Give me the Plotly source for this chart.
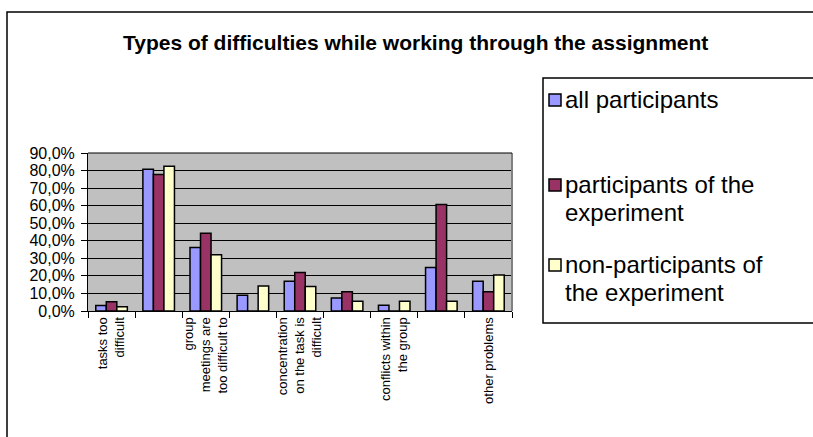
import plotly.graph_objects as go

# ---- data ----
category_labels = ["tasks too<br>difficult", None, "group<br>meetings are<br>too difficult to", None,
                   "concentration<br>on the task is<br>difficult", None, "conflicts within<br>the group", None,
                   "other problems"]
series_names = ["all participants", "participants of the<br>experiment", "non-participants of<br>the experiment"]
all_participants = [3.1, 80.7, 36.2, 9.0, 16.9, 7.4, 3.3, 24.8, 16.9]
participants_exp = [5.3, 77.8, 44.3, 0.0, 21.9, 10.9, 0.0, 60.7, 10.9]
non_participants = [2.4, 82.4, 32.1, 14.3, 14.0, 5.5, 5.5, 5.5, 20.5]
y_ticks = [0, 10, 20, 30, 40, 50, 60, 70, 80, 90]
y_ticktext = ["%d,0%%" % v for v in y_ticks]

colors = ["#9999FF", "#993366", "#FFFFCC"]
FONT = "Liberation Sans, Arial, sans-serif"

W, H = 813, 437
L, R, T, B = 88, 512, 153, 311  # plot area in pixels

def px_x(p):
    return (p - L) / (R - L)

def px_y(p):
    return (B - p) / (B - T)

xs = list(range(len(category_labels)))
fig = go.Figure()
for name, vals, c in zip(series_names, [all_participants, participants_exp, non_participants], colors):
    fig.add_trace(go.Bar(x=xs, y=vals, name=name, marker=dict(color=c, line=dict(color="black", width=1.5)),
                         showlegend=False))

tickvals = [i for i, t in enumerate(category_labels) if t]
ticktext = [t for t in category_labels if t]

fig.update_layout(
    width=W, height=H,
    margin=dict(l=L, r=W - R, t=T, b=H - B),
    paper_bgcolor="white", plot_bgcolor="#C0C0C0",
    barmode="group", bargap=0.33, bargroupgap=0,
    font=dict(family=FONT, color="black", size=13),
    xaxis=dict(range=[-0.5, len(xs) - 0.5], tickmode="array", tickvals=tickvals, ticktext=ticktext,
               tickangle=-90, ticks="", showline=True, linecolor="black", linewidth=1,
               tickfont=dict(size=13, family=FONT), showgrid=False, zeroline=False,
               minor=dict(tickmode="array", tickvals=[i - 0.5 for i in range(len(xs) + 1)],
                          ticks="outside", ticklen=6, tickcolor="black", showgrid=False)),
    yaxis=dict(range=[0, 90], tickmode="array", tickvals=y_ticks, ticktext=y_ticktext,
               ticks="outside", ticklen=6, tickcolor="black", showline=True, linecolor="black",
               linewidth=1, showgrid=True, gridcolor="black", gridwidth=1, zeroline=False,
               tickfont=dict(size=16, family=FONT), ticklabelstandoff=3),
)

shapes = []
# plot area right border (gray) and top line
shapes.append(dict(type="line", xref="paper", yref="paper", x0=1, x1=1, y0=0, y1=1,
                   line=dict(color="#808080", width=2)))
shapes.append(dict(type="line", xref="paper", yref="paper", x0=0, x1=1, y0=1, y1=1,
                   line=dict(color="black", width=1)))
# outer chart border
shapes.append(dict(type="rect", xref="paper", yref="paper", x0=px_x(7), x1=px_x(830),
                   y0=px_y(450), y1=px_y(12), line=dict(color="black", width=1.5)))
# legend box
shapes.append(dict(type="rect", xref="paper", yref="paper", x0=px_x(543), x1=px_x(830),
                   y0=px_y(323), y1=px_y(78), line=dict(color="black", width=1.5)))

annotations = [dict(text="<b>Types of difficulties while working through the assignment</b>",
                    xref="paper", yref="paper", x=px_x(415), y=px_y(42), xanchor="center",
                    yanchor="middle", showarrow=False, font=dict(size=21, family=FONT))]

legend_y = [100, 185, 265]
line_gap = 28
for name, c, yc in zip(series_names, colors, legend_y):
    shapes.append(dict(type="rect", xref="paper", yref="paper", x0=px_x(549), x1=px_x(561),
                       y0=px_y(yc + 6), y1=px_y(yc - 6), fillcolor=c,
                       line=dict(color="black", width=1.5)))
    for k, line in enumerate(name.split("<br>")):
        annotations.append(dict(text=line, xref="paper", yref="paper", x=px_x(563),
                                y=px_y(yc - 1 + k * line_gap), xanchor="left", yanchor="middle",
                                align="left", showarrow=False, font=dict(size=24, family=FONT)))

fig.update_layout(shapes=shapes, annotations=annotations)
fig.write_html("out.html")
